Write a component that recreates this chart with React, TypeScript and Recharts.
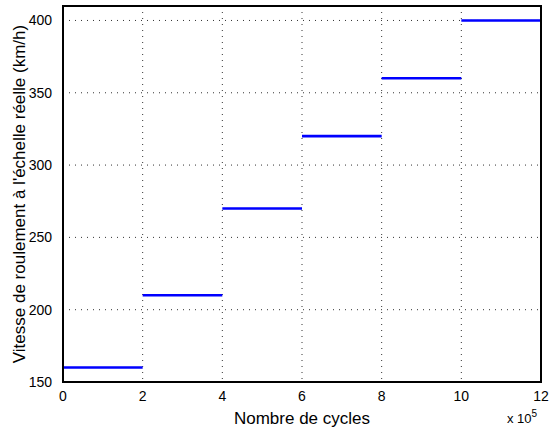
import { LineChart, Line, XAxis, YAxis, CartesianGrid, Label } from "recharts";

// cycle boundaries (x 10^5) and speed held on each interval
const cycleStarts = [0, 2, 4, 6, 8, 10];
const cycleEnds = [2, 4, 6, 8, 10, 12];
const speeds = [160, 210, 270, 320, 360, 400];

const xTicks = [0, 2, 4, 6, 8, 10, 12];
const yTicks = [150, 200, 250, 300, 350, 400];
const xDomain = [0, 12];
const yDomain = [150, 410];

// one flat segment per interval, separated by a gap
const data: { x: number; y: number | null }[] = [];
speeds.forEach((v, i) => {
  data.push({ x: cycleStarts[i], y: v });
  data.push({ x: cycleEnds[i], y: v });
  data.push({ x: cycleEnds[i], y: null });
});

const font = "'Liberation Sans', Arial, sans-serif";
const tickStyle = { fill: "#000", fontSize: 14, fontFamily: font };

const App = () => {
  return (
    <div style={{ position: "fixed", left: 0, top: 0, width: 549, height: 430, background: "#fff", fontFamily: font }}>
      <LineChart width={549} height={430} data={data} margin={{ top: 6, right: 8, bottom: 4, left: 0 }}>
        <CartesianGrid stroke="#333" strokeDasharray="1 5" />
        <XAxis
          dataKey="x"
          type="number"
          domain={xDomain}
          ticks={xTicks}
          interval={0}
          tickLine={false}
          axisLine={false}
          tick={tickStyle}
          tickMargin={3}
          height={44}
        >
          <Label value="Nombre de cycles" position="insideBottom" offset={2} fill="#000" fontSize={17} fontFamily={font} />
        </XAxis>
        <YAxis
          type="number"
          domain={yDomain}
          ticks={yTicks}
          interval={0}
          tickLine={false}
          axisLine={false}
          tick={tickStyle}
          tickMargin={5}
          width={63}
        >
          <Label
            value="Vitesse de roulement à l'échelle réelle (km/h)"
            angle={-90}
            position="insideLeft"
            offset={19}
            style={{ textAnchor: "middle" }}
            fill="#000"
            fontSize={17}
            fontFamily={font}
          />
        </YAxis>
        <Line
          dataKey="y"
          type="linear"
          stroke="#0000ff"
          strokeWidth={2.6}
          dot={false}
          connectNulls={false}
          isAnimationActive={false}
        />
      </LineChart>
      {/* box around the plot area */}
      <div
        style={{
          position: "absolute",
          left: 62,
          top: 5,
          width: 480,
          height: 378,
          border: "2px solid #000",
          boxSizing: "border-box",
          pointerEvents: "none",
        }}
      />
      <div style={{ position: "absolute", left: 507, top: 411, fontSize: 13, color: "#000", lineHeight: "16px" }}>
        x 10<sup style={{ fontSize: 10, verticalAlign: "top", position: "relative", top: -5 }}>5</sup>
      </div>
    </div>
  );
};

export default App;
